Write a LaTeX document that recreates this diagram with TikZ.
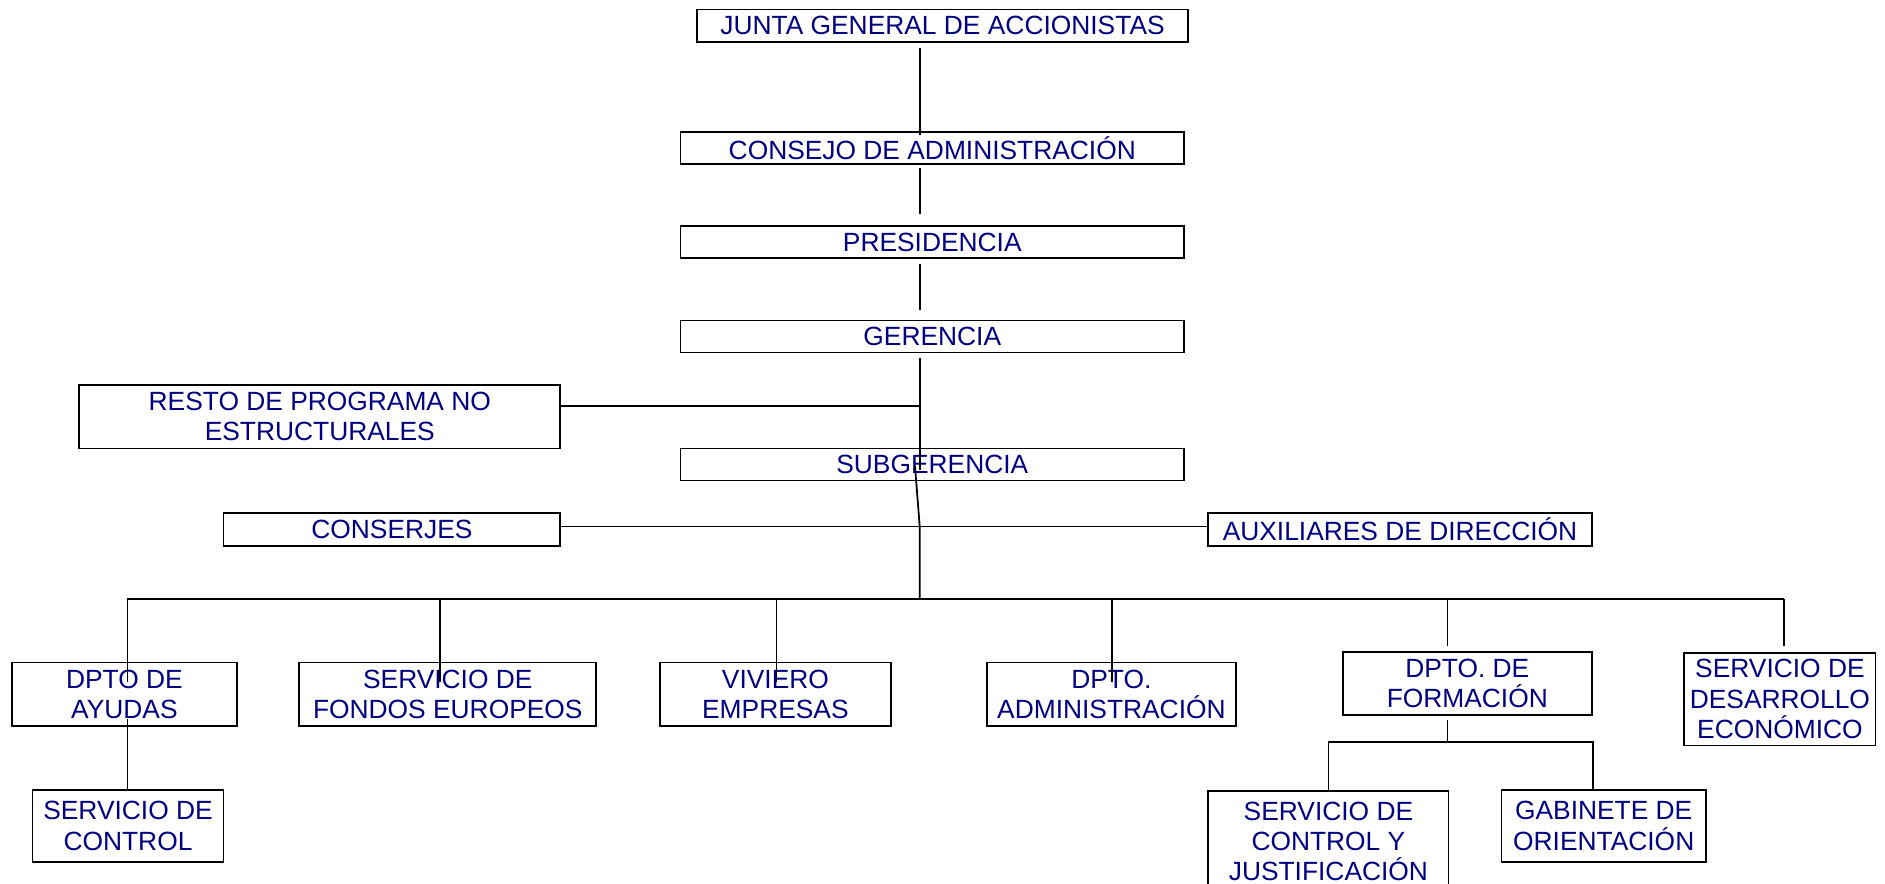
\documentclass[tikz,border=0pt]{standalone}
\usepackage{fontspec}
\setmainfont{Liberation Sans}
\definecolor{navyblue}{RGB}{0,0,128}

\begin{document}
\begin{tikzpicture}[
		line width=0.5pt,
		unit/.style={draw,rectangle,inner sep=0pt,align=center,text=navyblue,font=\fontsize{7.5}{8.6}\selectfont},
		top/.style={unit,minimum width=5.037cm,minimum height=0.32cm},
		dept/.style={unit,minimum height=0.637cm}
		]
		\useasboundingbox (0,0) rectangle (18.85,-8.84);
		\node[unit,minimum width=4.905cm,minimum height=0.325cm](junta) at (9.425,-0.258){JUNTA GENERAL DE ACCIONISTAS};
		\node[top](consejo) at (9.323,-1.479){CONSEJO DE ADMINISTRACIÓN};
		\node[top](presid) at (9.323,-2.422){PRESIDENCIA};
		\node[top](gerencia) at (9.323,-3.366){GERENCIA};
		\node[dept,minimum width=4.809cm](resto) at (3.198,-4.166){RESTO DE PROGRAMA NO\\ESTRUCTURALES};
		\node[top](subger) at (9.323,-4.646){SUBGERENCIA};
		\node[unit,minimum width=3.366cm,minimum height=0.325cm](conserjes) at (3.919,-5.296){CONSERJES};
		\node[unit,minimum width=3.835cm,minimum height=0.325cm](aux) at (14.0,-5.296){AUXILIARES DE DIRECCIÓN};
		\node[dept,minimum width=2.248cm](ayudas) at (1.244,-6.943){DPTO DE\\AYUDAS};
		\node[dept,minimum width=2.969cm](fondos) at (4.478,-6.943){SERVICIO DE\\FONDOS EUROPEOS};
		\node[dept,minimum width=2.308cm](viviero) at (7.754,-6.943){VIVIERO\\EMPRESAS};
		\node[dept,minimum width=2.489cm](admin) at (11.114,-6.943){DPTO.\\ADMINISTRACIÓN};
		\node[dept,minimum width=2.489cm](formacion) at (14.673,-6.835){DPTO. DE\\FORMACIÓN};
		\node[unit,minimum width=1.912cm,minimum height=0.926cm](desarrollo) at (17.799,-6.991){SERVICIO DE\\DESARROLLO\\ECONÓMICO};
		\node[unit,minimum width=1.912cm,minimum height=0.721cm](control) at (1.28,-8.259){SERVICIO DE\\CONTROL};
		\node[unit,minimum width=2.404cm,minimum height=1.01cm](controlj) at (13.284,-8.415){SERVICIO DE\\CONTROL Y\\JUSTIFICACIÓN};
		\node[unit,minimum width=2.044cm,minimum height=0.721cm](gabinete) at (16.037,-8.259){GABINETE DE\\ORIENTACIÓN};
		
		\coordinate (spine) at (9.197,0);
		\coordinate (rjoin) at (9.197,-4.063);
		\coordinate (kink) at (9.197,-4.70);
		\coordinate (kinkb) at (9.15,-4.66);
		\coordinate (junc) at (9.197,-5.266);
		\coordinate (bus) at (9.197,-5.987);
		\draw[shorten <=0.047cm,shorten >=-0.044cm] (spine |- junta.south) -- (spine |- consejo.north);
		\draw[shorten <=0.034cm,shorten >=0.11cm] (spine |- consejo.south) -- (spine |- presid.north);
		\draw[shorten <=0.045cm,shorten >=0.10cm] (spine |- presid.south) -- (spine |- gerencia.north);
		\draw[shorten <=0.045cm] (spine |- gerencia.south) -- (kink);
		\draw (kinkb) -- (junc) -- (bus);
		\draw (rjoin -| resto.east) -- (rjoin);
		\draw (junc -| conserjes.east) -- (junc -| aux.west);
		
		\foreach \n/\x in {d1/1.274,d2/4.40,d3/7.766,d4/11.12,d5/14.475,d6/17.841}
			\coordinate (\n) at (\x,-5.987);
		\draw (d1) -- (d6);
		\foreach \n/\b in {d1/ayudas,d2/fondos,d3/viviero,d4/admin}
			\draw (\n) -- ([yshift=-0.204cm]\n |- \b.north);
		\draw ([yshift=0.08cm]d1 |- ayudas.south) -- (d1 |- control.north);
		\draw[shorten >=0.049cm] (d5) -- (d5 |- formacion.north);
		\draw[shorten >=0.06cm] (d6) -- (d6 |- desarrollo.north);
		
		\coordinate (f) at (14.475,-7.418);
		\coordinate (f1) at (13.284,-7.418);
		\coordinate (f2) at (15.929,-7.418);
		\draw[shorten <=0.036cm] (f |- formacion.south) -- (f);
		\draw (f1 |- controlj.north) -- (f1) -- (f2) -- (f2 |- gabinete.north);
		
		\end{tikzpicture}
\end{document}
